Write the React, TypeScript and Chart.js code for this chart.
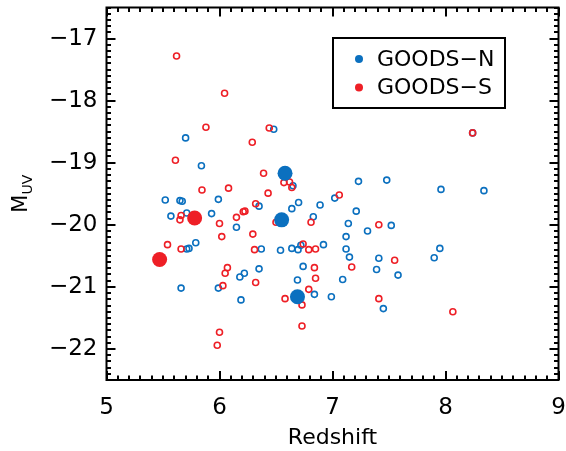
import React, { useEffect, useRef } from "react";
import { Chart, registerables } from "chart.js";

Chart.register(...registerables);

// GOODS-N, open circles (redshift, M_UV)
const northOpenZ = [6.48, 5.70, 5.84, 6.65, 8.24, 7.23, 7.48, 7.96, 8.34, 7.02, 5.52, 5.65, 5.67, 5.99, 5.57, 5.71, 5.93, 6.35, 6.70, 6.64, 6.89, 6.83, 6.15, 5.79, 5.71, 5.73, 6.37, 6.54, 6.64, 6.695, 6.72, 6.35, 6.22, 6.18, 6.74, 6.69, 5.66, 5.99, 6.84, 6.19, 7.21, 7.14, 7.52, 7.31, 7.12, 6.92, 7.12, 7.15, 7.41, 7.95, 7.90, 7.39, 7.58, 7.09, 6.99, 7.45];
const northOpenM = [-18.46, -18.60, -19.05, -19.37, -18.52, -19.30, -19.28, -19.43, -19.45, -19.57, -19.60, -19.61, -19.62, -19.59, -19.86, -19.81, -19.82, -19.70, -19.64, -19.74, -19.68, -19.87, -20.04, -20.29, -20.39, -20.38, -20.39, -20.41, -20.38, -20.40, -20.33, -20.71, -20.78, -20.84, -20.67, -20.89, -21.02, -21.02, -21.12, -21.21, -19.78, -19.98, -20.01, -20.10, -20.19, -20.32, -20.39, -20.52, -20.54, -20.38, -20.53, -20.72, -20.81, -20.88, -21.16, -21.35];
// GOODS-N, filled circles
const northFilledZ = [6.58, 6.55, 6.69];
const northFilledM = [-19.17, -19.92, -21.16];
// GOODS-S, open circles
const southOpenZ = [5.62, 6.045, 5.88, 6.44, 6.29, 5.61, 6.39, 5.845, 6.08, 6.43, 6.57, 6.62, 6.64, 8.24, 7.06, 5.66, 5.65, 6.32, 6.15, 6.21, 6.225, 6.50, 6.81, 6.0, 6.295, 6.02, 5.54, 5.66, 6.31, 6.74, 6.79, 6.85, 6.07, 6.05, 6.84, 6.85, 6.32, 6.03, 6.79, 6.58, 6.73, 6.73, 6.0, 5.98, 7.41, 7.55, 7.17, 7.41, 8.065];
const southOpenM = [-17.28, -17.88, -18.43, -18.44, -18.67, -18.96, -19.17, -19.44, -19.41, -19.49, -19.32, -19.31, -19.40, -18.52, -19.52, -19.85, -19.92, -19.66, -19.88, -19.79, -19.78, -19.96, -19.96, -19.98, -20.15, -20.19, -20.32, -20.39, -20.40, -20.31, -20.40, -20.39, -20.69, -20.78, -20.69, -20.86, -20.93, -20.98, -21.04, -21.19, -21.29, -21.63, -21.73, -21.94, -20.00, -20.57, -20.68, -21.19, -21.40];
// GOODS-S, filled circles
const southFilledZ = [5.78, 5.47];
const southFilledM = [-19.89, -20.56];

const xTickValues = [5, 6, 7, 8, 9];
const yTickValues = [-22, -21, -20, -19, -18, -17];
const seriesNames = ["GOODS\u2212N", "GOODS\u2212S"];
const xTitle = "Redshift";
const yTitleMain = "M";
const yTitleSub = "UV";

const BLUE = "#0b70bf";
const RED = "#ee1f26";
const FONT = "'DejaVu Sans', Verdana, sans-serif";

const pts = (xs: number[], ys: number[]) => xs.map((x, i) => ({ x, y: ys[i] }));

const framePlugin = {
  id: "idlFrame",
  afterDatasetsDraw(chart: any) {
    const { ctx, chartArea: a, scales } = chart;
    const xs = scales.x;
    const ys = scales.y;
    ctx.save();
    ctx.strokeStyle = "#000";
    ctx.lineWidth = 2;
    ctx.lineCap = "butt";
    ctx.beginPath();
    for (let i = 50; i <= 90; i++) {
      const px = Math.round(xs.getPixelForValue(i / 10));
      const len = i % 10 === 0 ? 9 : 4.5;
      ctx.moveTo(px, a.bottom);
      ctx.lineTo(px, a.bottom - len);
      ctx.moveTo(px, a.top);
      ctx.lineTo(px, a.top + len);
    }
    for (let i = -225; i <= -165; i++) {
      const py = Math.round(ys.getPixelForValue(i / 10));
      const len = i % 10 === 0 ? 9 : 4.5;
      ctx.moveTo(a.left, py);
      ctx.lineTo(a.left + len, py);
      ctx.moveTo(a.right, py);
      ctx.lineTo(a.right - len, py);
    }
    ctx.stroke();
    ctx.strokeRect(a.left, a.top, a.right - a.left, a.bottom - a.top);

    // y-axis title: M with subscript UV, rotated
    ctx.fillStyle = "#000";
    ctx.translate(27, (a.top + a.bottom) / 2);
    ctx.rotate(-Math.PI / 2);
    ctx.textBaseline = "alphabetic";
    ctx.font = `21px ${FONT}`;
    const mw = ctx.measureText(yTitleMain).width;
    ctx.font = `14px ${FONT}`;
    const sw = ctx.measureText(yTitleSub).width;
    const start = -(mw + sw) / 2;
    ctx.font = `21px ${FONT}`;
    ctx.textAlign = "left";
    ctx.fillText(yTitleMain, start, 0);
    ctx.font = `14px ${FONT}`;
    ctx.fillText(yTitleSub, start + mw, 5);
    ctx.restore();

    // legend box
    ctx.save();
    const bx = a.left + 226.5;
    const by = a.top + 30.5;
    const bw = 172;
    const bh = 70;
    ctx.strokeStyle = "#000";
    ctx.lineWidth = 2;
    ctx.fillStyle = "#fff";
    ctx.fillRect(bx, by, bw, bh);
    ctx.strokeRect(bx, by, bw, bh);
    const legendDatasets = chart.data.datasets
      .filter((d: any) => d.showInLegend)
      .sort((p: any, q: any) => seriesNames.indexOf(p.label) - seriesNames.indexOf(q.label));
    legendDatasets.forEach((d: any, i: number) => {
      const cy = by + 21 + i * 28.5;
      ctx.beginPath();
      ctx.fillStyle = d.legendColor;
      ctx.arc(bx + 26, cy, 4, 0, Math.PI * 2);
      ctx.fill();
      ctx.fillStyle = "#000";
      ctx.font = `22px ${FONT}`;
      ctx.textAlign = "left";
      ctx.textBaseline = "middle";
      ctx.fillText(d.label, bx + 44, cy + 1);
    });
    ctx.restore();
  },
};

export default function App() {
  const canvasRef = useRef<HTMLCanvasElement | null>(null);

  useEffect(() => {
    const canvas = canvasRef.current;
    if (!canvas) return;
    const chart = new Chart(canvas, {
      type: "scatter",
      data: {
        datasets: [
          {
            label: seriesNames[0] + " bright",
            data: pts(northFilledZ, northFilledM),
            pointRadius: 7.5,
            pointBackgroundColor: BLUE,
            pointBorderColor: BLUE,
            pointBorderWidth: 0,
            order: 0,
          } as any,
          {
            label: seriesNames[1] + " bright",
            data: pts(southFilledZ, southFilledM),
            pointRadius: 7.5,
            pointBackgroundColor: RED,
            pointBorderColor: RED,
            pointBorderWidth: 0,
            order: 1,
          } as any,
          {
            label: seriesNames[1],
            data: pts(southOpenZ, southOpenM),
            pointRadius: 3,
            pointBackgroundColor: "rgba(0,0,0,0)",
            pointBorderColor: RED,
            pointBorderWidth: 1.6,
            order: 2,
            showInLegend: true,
            legendColor: RED,
          } as any,
          {
            label: seriesNames[0],
            data: pts(northOpenZ, northOpenM),
            pointRadius: 3,
            pointBackgroundColor: "rgba(0,0,0,0)",
            pointBorderColor: BLUE,
            pointBorderWidth: 1.6,
            order: 3,
            showInLegend: true,
            legendColor: BLUE,
          } as any,
        ],
      },
      options: {
        animation: false,
        responsive: false,
        events: [],
        layout: { padding: { top: 6, right: 6, left: 0, bottom: 0 } },
        plugins: {
          legend: { display: false },
          tooltip: { enabled: false },
        },
        scales: {
          x: {
            type: "linear",
            min: 5,
            max: 9,
            grid: { display: false, drawTicks: false },
            border: { display: false },
            afterBuildTicks: (s: any) => {
              s.ticks = xTickValues.map((v) => ({ value: v }));
            },
            ticks: {
              autoSkip: false,
              maxRotation: 0,
              padding: 14,
              color: "#000",
              font: { family: FONT, size: 23 },
              callback: (v: any) => String(v),
            },
            title: {
              display: true,
              text: xTitle,
              color: "#000",
              font: { family: FONT, size: 22 },
              padding: { top: 0, bottom: 0 },
            },
            afterFit: (s: any) => {
              s.height = 71;
              s.paddingLeft = 0;
              s.paddingRight = 0;
            },
          },
          y: {
            type: "linear",
            min: -22.5,
            max: -16.5,
            grid: { display: false, drawTicks: false },
            border: { display: false },
            afterBuildTicks: (s: any) => {
              s.ticks = yTickValues.map((v) => ({ value: v }));
            },
            ticks: {
              autoSkip: false,
              padding: 9,
              color: "#000",
              font: { family: FONT, size: 23 },
              callback: (v: any) => "\u2212" + Math.abs(Number(v)),
            },
            afterFit: (s: any) => {
              s.width = 106.5;
              s.paddingTop = 0;
              s.paddingBottom = 0;
            },
          },
        },
      } as any,
      plugins: [framePlugin],
    });
    return () => chart.destroy();
  }, []);

  return (
    <div style={{ position: "absolute", left: 0, top: 0, width: 566, height: 451, background: "#fff" }}>
      <canvas ref={canvasRef} width={566} height={451} style={{ display: "block" }} />
    </div>
  );
}
